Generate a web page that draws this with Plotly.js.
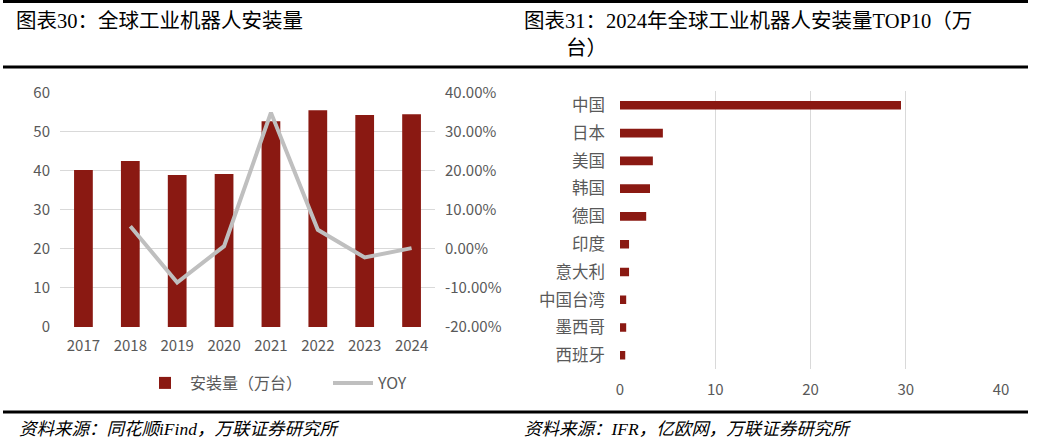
<!DOCTYPE html>
<html>
<head>
<meta charset="utf-8">
<script src="https://cdn.plot.ly/plotly-3.0.1.min.js"></script>
<style>html,body{margin:0;padding:0;background:#fff;}#chart{width:1038px;height:447px;}</style>
</head>
<body>
<div id="chart"></div>
<script>
// Left chart data: global industrial robot installations
const years = ['2017', '2018', '2019', '2020', '2021', '2022', '2023', '2024'];
const installs = [40.2, 42.5, 38.9, 39.2, 52.7, 55.5, 54.3, 54.5];
const yoy = [null, 0.058, -0.086, 0.007, 0.349, 0.049, -0.022, 0.002];
const yoyTickVals = [-0.2, -0.1, 0, 0.1, 0.2, 0.3, 0.4];
const yoyTickText = ['-20.00%', '-10.00%', '0.00%', '10.00%', '20.00%', '30.00%', '40.00%'];

// Right chart data: 2024 top 10 countries (10k units)
const countries = ['中国', '日本', '美国', '韩国', '德国', '印度', '意大利', '中国台湾', '墨西哥', '西班牙'];
const top10 = [29.5, 4.5, 3.45, 3.15, 2.75, 0.95, 0.95, 0.65, 0.65, 0.55];

const W = 1038, H = 447;
const px = v => v / W;
const py = v => 1 - v / H;

const red = '#8a1912';
const tickFont = {family: 'Noto Sans CJK SC, Liberation Sans, sans-serif', size: 15, color: '#595959'};
const serif = 'Liberation Serif, Noto Sans CJK SC, serif';

const traces = [
  {type: 'bar', x: years, y: installs, xaxis: 'x', yaxis: 'y', name: '安装量（万台）',
   marker: {color: red}, width: 0.4, hoverinfo: 'x+y'},
  {type: 'scatter', mode: 'lines', x: years, y: yoy, xaxis: 'x', yaxis: 'y2', name: 'YOY',
   line: {color: '#bfbfbf', width: 4}, connectgaps: false},
  {type: 'bar', orientation: 'h', x: top10, y: countries, xaxis: 'x2', yaxis: 'y3',
   marker: {color: red}, width: 0.31, showlegend: false}
];

const hline = (x0, x1, y) => ({type: 'line', xref: 'paper', yref: 'paper', x0: px(x0), x1: px(x1), y0: py(y), y1: py(y), line: {color: '#000', width: 3}});

const layout = {
  width: W, height: H,
  margin: {l: 0, r: 0, t: 0, b: 0},
  paper_bgcolor: '#fff', plot_bgcolor: 'rgba(0,0,0,0)',
  showlegend: true,
  legend: {orientation: 'h', x: px(140), y: py(383), xanchor: 'left', yanchor: 'middle',
           font: {family: tickFont.family, size: 16, color: '#595959'}, itemwidth: 40,
           entrywidth: 133, traceorder: 'normal'},
  xaxis: {domain: [px(60), px(435)], anchor: 'y', type: 'category', showgrid: false,
          showline: false, zeroline: false, ticks: '', tickfont: tickFont, ticklabelstandoff: 8},
  yaxis: {domain: [py(327), py(92.7)], anchor: 'x', range: [0, 60], dtick: 10,
          showgrid: true, gridcolor: '#d9d9d9', gridwidth: 1, zeroline: false, showline: false,
          tickfont: tickFont, ticklabelstandoff: 9},
  yaxis2: {overlaying: 'y', side: 'right', anchor: 'x', range: [-0.2, 0.4],
           tickvals: yoyTickVals, ticktext: yoyTickText, showgrid: false, zeroline: false,
           showline: false, tickfont: tickFont, ticklabelstandoff: 9},
  xaxis2: {domain: [px(620), px(1001)], anchor: 'y3', range: [0, 40], dtick: 10,
           showgrid: true, gridcolor: '#d9d9d9', gridwidth: 1, zeroline: false, showline: false,
           tickfont: tickFont, ticklabelstandoff: 10},
  yaxis3: {domain: [py(369.2), py(91.4)], anchor: 'x2', type: 'category',
           categoryorder: 'array', categoryarray: countries, autorange: 'reversed',
           showgrid: false, zeroline: false, showline: false, ticks: '',
           tickfont: {family: tickFont.family, size: 16.5, color: '#595959'}, ticklabelstandoff: 14},
  shapes: [
    hline(3, 1028, 1.5),
    hline(3, 1028, 67),
    hline(3, 1028, 412)
  ],
  annotations: [
    {text: '图表30：全球工业机器人安装量', xref: 'paper', yref: 'paper', x: px(14), y: py(21),
     xanchor: 'left', yanchor: 'middle', showarrow: false, font: {family: serif, size: 20.5, color: '#000'}},
    {text: '图表31：2024年全球工业机器人安装量TOP10（万', xref: 'paper', yref: 'paper', x: px(522), y: py(21),
     xanchor: 'left', yanchor: 'middle', showarrow: false, font: {family: serif, size: 20.5, color: '#000'}},
    {text: '台）', xref: 'paper', yref: 'paper', x: px(564), y: py(48),
     xanchor: 'left', yanchor: 'middle', showarrow: false, font: {family: serif, size: 20.5, color: '#000'}},
    {text: '<i>资料来源：同花顺iFind，万联证券研究所</i>', xref: 'paper', yref: 'paper', x: px(17), y: py(429),
     xanchor: 'left', yanchor: 'middle', showarrow: false, font: {family: serif, size: 17.5, color: '#000'}},
    {text: '<i>资料来源：IFR，亿欧网，万联证券研究所</i>', xref: 'paper', yref: 'paper', x: px(522), y: py(429),
     xanchor: 'left', yanchor: 'middle', showarrow: false, font: {family: serif, size: 17.5, color: '#000'}}
  ]
};

Plotly.newPlot('chart', traces, layout, {displayModeBar: false, staticPlot: true});
</script>
</body>
</html>
